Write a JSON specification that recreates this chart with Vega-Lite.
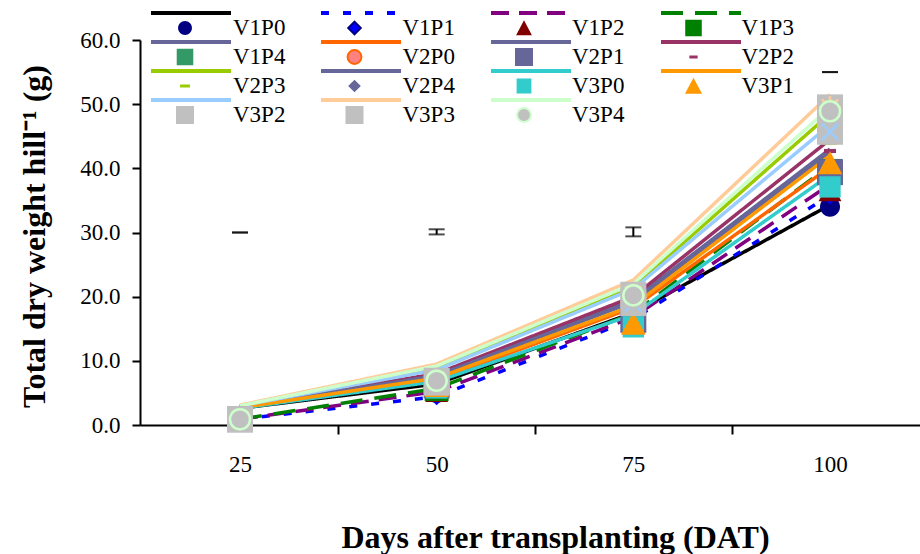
{
  "$schema": "https://vega.github.io/schema/vega-lite/v6.json",
  "autosize": "none",
  "padding": {"left": 140, "top": 40, "right": 0, "bottom": 129},
  "width": 780,
  "height": 385,
  "background": "white",
  "datasets": {
    "d": [
      {"series": "V1P0", "dat": 25, "l": 2.6, "m": 0.9}, {"series": "V1P0", "dat": 50, "l": 6.4, "m": 5.0}, {"series": "V1P0", "dat": 75, "l": 17.5, "m": 16.0}, {"series": "V1P0", "dat": 100, "l": 34.3, "m": 34.0},
      {"series": "V1P1", "dat": 25, "l": 0.9, "m": 0.9}, {"series": "V1P1", "dat": 50, "l": 4.4, "m": 4.5}, {"series": "V1P1", "dat": 75, "l": 16.5, "m": 15.8}, {"series": "V1P1", "dat": 100, "l": 35.8, "m": 35.8},
      {"series": "V1P2", "dat": 25, "l": 0.9, "m": 0.9}, {"series": "V1P2", "dat": 50, "l": 5.2, "m": 5.2}, {"series": "V1P2", "dat": 75, "l": 16.8, "m": 16.0}, {"series": "V1P2", "dat": 100, "l": 37.5, "m": 36.5},
      {"series": "V1P3", "dat": 25, "l": 0.9, "m": 0.9}, {"series": "V1P3", "dat": 50, "l": 5.7, "m": 5.6}, {"series": "V1P3", "dat": 75, "l": 17.4, "m": 16.5}, {"series": "V1P3", "dat": 100, "l": 40.5, "m": 39.6},
      {"series": "V1P4", "dat": 25, "l": 2.8, "m": 0.9}, {"series": "V1P4", "dat": 50, "l": 7.8, "m": 6.0}, {"series": "V1P4", "dat": 75, "l": 19.5, "m": 17.0}, {"series": "V1P4", "dat": 100, "l": 43.0, "m": 39.5},
      {"series": "V2P0", "dat": 25, "l": 2.7, "m": 0.9}, {"series": "V2P0", "dat": 50, "l": 7.0, "m": 6.0}, {"series": "V2P0", "dat": 75, "l": 18.3, "m": 16.5}, {"series": "V2P0", "dat": 100, "l": 40.2, "m": 39.0},
      {"series": "V2P1", "dat": 25, "l": 2.8, "m": 0.9}, {"series": "V2P1", "dat": 50, "l": 7.6, "m": 6.2}, {"series": "V2P1", "dat": 75, "l": 19.2, "m": 16.4}, {"series": "V2P1", "dat": 100, "l": 42.5, "m": 39.4},
      {"series": "V2P2", "dat": 25, "l": 2.9, "m": 0.9}, {"series": "V2P2", "dat": 50, "l": 8.0, "m": 6.5}, {"series": "V2P2", "dat": 75, "l": 20.0, "m": 17.5}, {"series": "V2P2", "dat": 100, "l": 44.5, "m": 42.7},
      {"series": "V2P3", "dat": 25, "l": 3.0, "m": 0.9}, {"series": "V2P3", "dat": 50, "l": 8.9, "m": 6.6}, {"series": "V2P3", "dat": 75, "l": 21.5, "m": 18.5}, {"series": "V2P3", "dat": 100, "l": 48.5, "m": 44.0},
      {"series": "V2P4", "dat": 25, "l": 2.8, "m": 0.9}, {"series": "V2P4", "dat": 50, "l": 7.7, "m": 6.3}, {"series": "V2P4", "dat": 75, "l": 19.3, "m": 17.0}, {"series": "V2P4", "dat": 100, "l": 42.8, "m": 40.0},
      {"series": "V3P0", "dat": 25, "l": 2.6, "m": 0.9}, {"series": "V3P0", "dat": 50, "l": 6.8, "m": 5.8}, {"series": "V3P0", "dat": 75, "l": 17.2, "m": 15.3}, {"series": "V3P0", "dat": 100, "l": 39.0, "m": 37.1},
      {"series": "V3P1", "dat": 25, "l": 2.7, "m": 0.9}, {"series": "V3P1", "dat": 50, "l": 7.3, "m": 6.1}, {"series": "V3P1", "dat": 75, "l": 18.6, "m": 15.8}, {"series": "V3P1", "dat": 100, "l": 42.0, "m": 40.8},
      {"series": "V3P2", "dat": 25, "l": 3.0, "m": 0.9}, {"series": "V3P2", "dat": 50, "l": 8.6, "m": 6.6}, {"series": "V3P2", "dat": 75, "l": 21.2, "m": 19.0}, {"series": "V3P2", "dat": 100, "l": 46.8, "m": 45.7},
      {"series": "V3P3", "dat": 25, "l": 3.1, "m": 0.9}, {"series": "V3P3", "dat": 50, "l": 9.5, "m": 6.9}, {"series": "V3P3", "dat": 75, "l": 22.6, "m": 20.3}, {"series": "V3P3", "dat": 100, "l": 51.5, "m": 49.5},
      {"series": "V3P4", "dat": 25, "l": 3.0, "m": 0.9}, {"series": "V3P4", "dat": 50, "l": 9.2, "m": 6.9}, {"series": "V3P4", "dat": 75, "l": 22.0, "m": 20.2}, {"series": "V3P4", "dat": 100, "l": 49.5, "m": 48.9}
    ],
    "eb": [
      {"dat": 25, "lo": 30.0, "hi": 30.0},
      {"dat": 50, "lo": 29.7, "hi": 30.5},
      {"dat": 75, "lo": 29.4, "hi": 30.8},
      {"dat": 100, "lo": 55.0, "hi": 55.0}
    ]
  },
  "encoding": {
    "x": {
      "field": "dat", "type": "quantitative",
      "scale": {"domain": [12.29, 111.44], "nice": false, "zero": false},
      "axis": {
        "values": [25, 37.5, 50, 62.5, 75, 87.5, 100],
        "labelExpr": "datum.value % 25 == 0 ? datum.label : ''",
        "tickOpacity": {"condition": {"test": "datum.value % 25 == 0", "value": 0}, "value": 1},
        "tickSize": 9, "labelPadding": 19, "labelFlush": false,
        "title": "Days after transplanting (DAT)",
        "titleX": 415, "titleY": 122, "titleBaseline": "alphabetic"
      }
    }
  },
  "layer": [
    {
      "data": {"name": "d"},
      "mark": {"type": "line", "strokeWidth": 3.5},
      "encoding": {
        "y": {"field": "l", "type": "quantitative", "scale": {"domain": [0, 60], "nice": false}, "title": "Total dry weight hill⁻¹ (g)",
          "axis": {"values": [0, 10, 20, 30, 40, 50, 60], "format": ".1f", "tickSize": 8, "labelPadding": 12, "titleX": -96, "titleY": 196, "titleBaseline": "alphabetic"}},
        "stroke": {
          "field": "series", "type": "nominal",
          "scale": {
            "range": ["#000000","#0000FF","#800080","#008000","#666699","#FF6600","#666699","#993366","#99CC00","#666699","#33CCCC","#FF9900","#99CCFF","#FFCC99","#CCFFCC"]
          },
          "legend": {"title": null, "orient": "none", "direction": "horizontal", "legendX": 9, "legendY": -41.5, "columns": 4, "symbolType": "stroke", "symbolSize": 6400, "symbolStrokeWidth": 4, "labelExpr": "''", "labelFont": "Liberation Serif", "labelFontSize": 23, "labelOffset": 0, "columnPadding": 86, "rowPadding": 0, "clipHeight": 29, "padding": 0}
        },
        "strokeDash": {
          "field": "series", "type": "nominal",
          "scale": {
            "range": [[1,0],[8,14],[18,10],[22,12],[1,0],[1,0],[1,0],[1,0],[1,0],[1,0],[1,0],[1,0],[1,0],[1,0],[1,0]]
          },
          "legend": {"title": null, "orient": "none", "direction": "horizontal", "legendX": 9, "legendY": -41.5, "columns": 4, "symbolType": "stroke", "symbolSize": 6400, "symbolStrokeWidth": 4, "labelExpr": "''", "labelFont": "Liberation Serif", "labelFontSize": 23, "labelOffset": 0, "columnPadding": 86, "rowPadding": 0, "clipHeight": 29, "padding": 0}
        }
      }
    },
    {
      "data": {"name": "eb"},
      "mark": {"type": "rule", "strokeWidth": 2, "color": "black"},
      "encoding": {
        "y": {"field": "lo", "type": "quantitative", "scale": {"domain": [0, 60], "nice": false}, "title": "Total dry weight hill⁻¹ (g)",
          "axis": {"values": [0, 10, 20, 30, 40, 50, 60], "format": ".1f", "tickSize": 8, "labelPadding": 12, "titleX": -96, "titleY": 196, "titleBaseline": "alphabetic"}},
        "y2": {"field": "hi"}
      }
    },
    {
      "data": {"name": "eb"},
      "mark": {"type": "tick", "orient": "horizontal", "size": 16, "thickness": 2, "color": "black"},
      "encoding": {
        "y": {"field": "lo", "type": "quantitative", "scale": {"domain": [0, 60], "nice": false}, "title": "Total dry weight hill⁻¹ (g)",
          "axis": {"values": [0, 10, 20, 30, 40, 50, 60], "format": ".1f", "tickSize": 8, "labelPadding": 12, "titleX": -96, "titleY": 196, "titleBaseline": "alphabetic"}}
      }
    },
    {
      "data": {"name": "eb"},
      "mark": {"type": "tick", "orient": "horizontal", "size": 16, "thickness": 2, "color": "black"},
      "encoding": {
        "y": {"field": "hi", "type": "quantitative", "scale": {"domain": [0, 60], "nice": false}, "title": "Total dry weight hill⁻¹ (g)",
          "axis": {"values": [0, 10, 20, 30, 40, 50, 60], "format": ".1f", "tickSize": 8, "labelPadding": 12, "titleX": -96, "titleY": 196, "titleBaseline": "alphabetic"}}
      }
    },
    {
      "data": {"name": "d"},
      "encoding": {
        "y": {"field": "m", "type": "quantitative", "scale": {"domain": [0, 60], "nice": false}, "title": "Total dry weight hill⁻¹ (g)",
          "axis": {"values": [0, 10, 20, 30, 40, 50, 60], "format": ".1f", "tickSize": 8, "labelPadding": 12, "titleX": -96, "titleY": 196, "titleBaseline": "alphabetic"}},
        "fill": {
          "field": "series", "type": "nominal",
          "scale": {
            "domain": ["V1P0","V1P1","V1P2","V1P3","V1P4","V2P0","V2P1","V2P2","V2P3","V2P4","V3P0","V3P1","V3P2","V3P3","V3P4"],
            "range": ["#000080","#0000FF","#800000","#008000","#339966","#FF8080","#666699","#993366","#99CC00","#666699","#33CCCC","#FF9900","#C0C0C0","#C0C0C0","#C0C0C0"]
          },
          "legend": {"title": null, "orient": "none", "direction": "horizontal", "legendX": 33.5, "legendY": -26.5, "columns": 4, "symbolSize": 324, "symbolStrokeWidth": 0, "symbolOpacity": 1, "labelFont": "Liberation Serif", "labelFontSize": 23, "labelColor": "black", "labelOffset": 36.5, "columnPadding": 57.5, "rowPadding": 0, "clipHeight": 29, "padding": 0,
            "encode": {
              "symbols": {"update": {"stroke": {"signal": "datum.value === 'V2P0' ? '#FF6600' : datum.value === 'V3P4' ? '#CCFFCC' : datum.value === 'V1P1' ? '#000080' : 'transparent'"}, "strokeWidth": {"value": 2}}},
              "labels": {"update": {"font": {"value": "Liberation Serif"}, "fontSize": {"value": 23}, "fill": {"value": "black"}}}
            }}
        },
        "shape": {
          "field": "series", "type": "nominal",
          "scale": {
            "domain": ["V1P0","V1P1","V1P2","V1P3","V1P4","V2P0","V2P1","V2P2","V2P3","V2P4","V3P0","V3P1","V3P2","V3P3","V3P4"],
            "range": [
              "M-0.77,0A0.77,0.77,0,1,1,0.77,0A0.77,0.77,0,1,1,-0.77,0Z",
              "M0,-0.7L0.7,0L0,0.7L-0.7,0Z",
              "M0,-0.85L0.88,0.8L-0.88,0.8Z",
              "M-0.92,-0.92H0.92V0.92H-0.92Z",
              "M-0.92,-0.92H0.92V0.92H-0.92Z",
              "M-0.77,0A0.77,0.77,0,1,1,0.77,0A0.77,0.77,0,1,1,-0.77,0Z",
              "square",
              "M-0.46,-0.16H0.46V0.16H-0.46Z",
              "M-0.55,-0.16H0.55V0.16H-0.55Z",
              "M0,-0.7L0.7,0L0,0.7L-0.7,0Z",
              "M-0.82,-0.82H0.82V0.82H-0.82Z",
              "M0,-0.92L0.95,0.85L-0.95,0.85Z",
              "square",
              "square",
              "M-0.77,0A0.77,0.77,0,1,1,0.77,0A0.77,0.77,0,1,1,-0.77,0Z"
            ]
          },
          "legend": {"title": null, "orient": "none", "direction": "horizontal", "legendX": 33.5, "legendY": -26.5, "columns": 4, "symbolSize": 324, "symbolStrokeWidth": 0, "symbolOpacity": 1, "labelFont": "Liberation Serif", "labelFontSize": 23, "labelColor": "black", "labelOffset": 36.5, "columnPadding": 57.5, "rowPadding": 0, "clipHeight": 29, "padding": 0}
        }
      },
      "layer": [
        {
          "transform": [{"filter": "datum.series != 'V3P3' && datum.series != 'V3P4'"}],
          "mark": {"type": "point", "filled": true, "size": 676, "strokeWidth": 0, "opacity": 1}
        },
        {
          "transform": [{"filter": "datum.series == 'V3P2'"}],
          "mark": {"type": "point", "filled": false, "size": 676, "stroke": "#99CCFF", "strokeWidth": 2.5, "opacity": 1},
          "encoding": {"fill": {"value": "transparent"}, "shape": {"value": "M-0.62,-0.62L0.62,0.62M0.62,-0.62L-0.62,0.62"}}
        },
        {
          "transform": [{"filter": "datum.series == 'V3P3'"}],
          "mark": {"type": "point", "filled": true, "size": 676, "strokeWidth": 0, "opacity": 1}
        },
        {
          "transform": [{"filter": "datum.series == 'V3P3'"}],
          "mark": {"type": "point", "filled": false, "size": 676, "stroke": "#FFCC99", "strokeWidth": 2.5, "opacity": 1},
          "encoding": {"fill": {"value": "transparent"}, "shape": {"value": "M0,-0.85V0.85M-0.85,0H0.85M-0.62,-0.62L0.62,0.62M0.62,-0.62L-0.62,0.62"}}
        },
        {
          "transform": [{"filter": "datum.series == 'V3P4'"}],
          "mark": {"type": "point", "filled": true, "size": 676, "stroke": "#CCFFCC", "strokeWidth": 2.5, "opacity": 1}
        }
      ]
    }
  ],
  "config": {
    "view": {"stroke": null},
    "style": {"guide-label": {"font": "Liberation Serif", "fill": "black"}},
    "legend": {"labelFont": "Liberation Serif", "labelFontSize": 23, "labelColor": "black"},
    "axis": {
      "grid": false, "domainColor": "black", "domainWidth": 2, "tickColor": "black", "tickWidth": 2,
      "labelColor": "black", "titleColor": "black", "labelFont": "Liberation Serif", "titleFont": "Liberation Serif",
      "labelFontSize": 23, "titleFontSize": 32, "titleFontWeight": "bold"
    }
  }
}
